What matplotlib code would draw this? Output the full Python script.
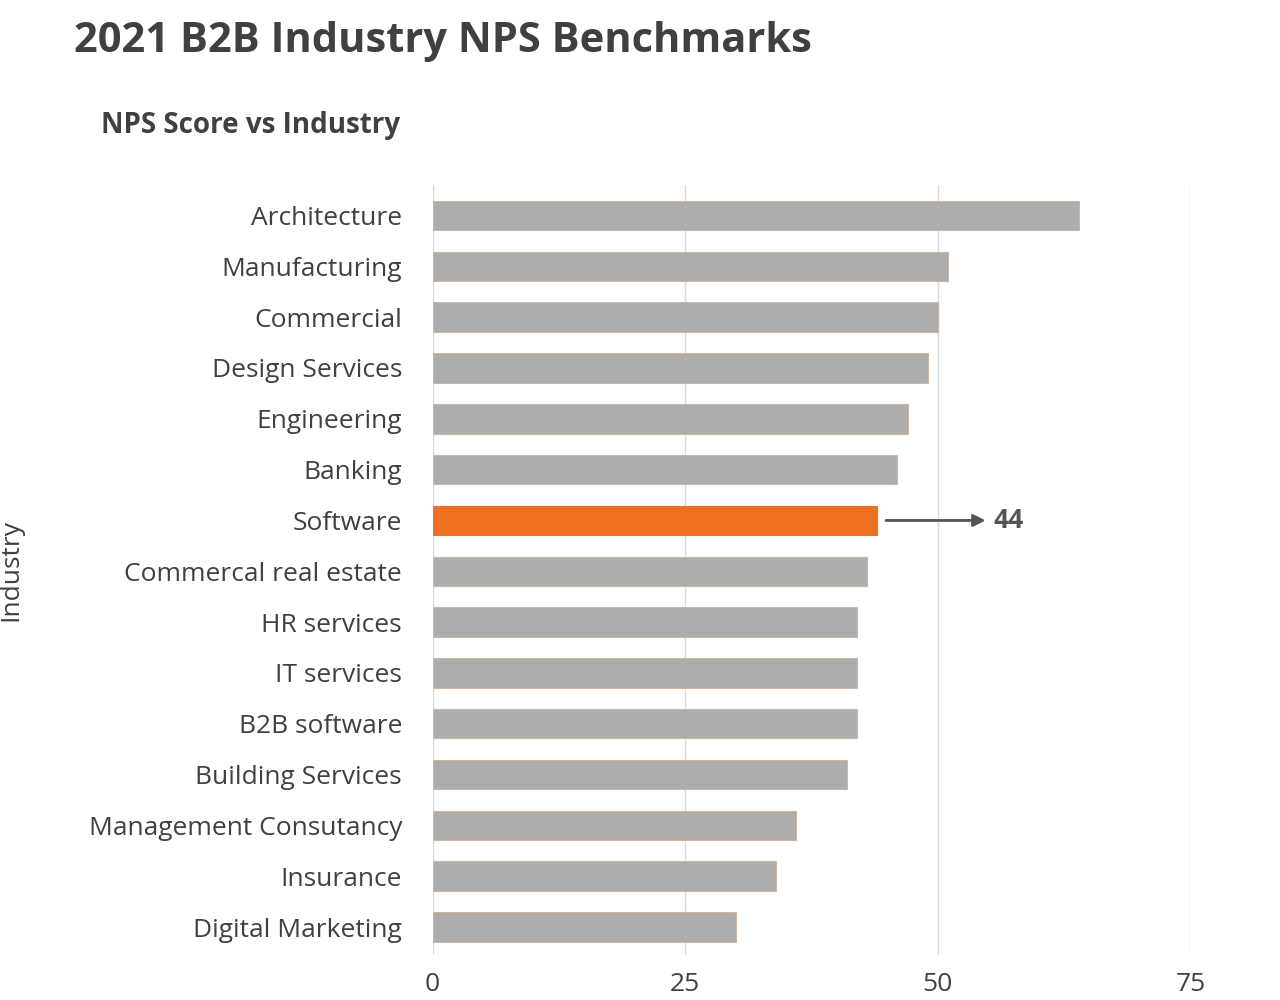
import matplotlib
matplotlib.use("Agg")
import matplotlib.pyplot as plt

industries = ["Architecture", "Manufacturing", "Commercial", "Design Services", "Engineering",
              "Banking", "Software", "Commercal real estate", "HR services", "IT services",
              "B2B software", "Building Services", "Management Consutancy", "Insurance",
              "Digital Marketing"]
nps = [64, 51, 50, 49, 47, 46, 44, 43, 42, 42, 42, 41, 36, 34, 30]
highlight = "Software"
x_ticks = [0, 25, 50, 75]

plt.rcParams['font.family'] = ['Open Sans', 'DejaVu Sans']

fig = plt.figure(figsize=(12.8, 10), dpi=100)
ax = fig.add_axes([0.338, 0.045, 0.592, 0.77])

ypos = list(range(len(industries)))
colors = ["#f07022" if n == highlight else "#adadad" for n in industries]
edges = ["#f07022" if n == highlight else "#c9b8a8" for n in industries]
ax.barh(ypos, nps, height=0.58, color=colors, edgecolor=edges, linewidth=0.8, zorder=3)
ax.set_yticks(ypos)
ax.set_yticklabels(industries, fontsize=19, color="#404040")
ax.invert_yaxis()
ax.set_ylim(len(industries) - 0.45, -0.6)
ax.set_xlim(0, 75)
ax.set_xticks(x_ticks)
ax.set_xticklabels([str(t) for t in x_ticks], fontsize=19, color="#404040")
ax.tick_params(length=0, pad=22)
ax.tick_params(axis='x', pad=12)
ax.grid(axis='x', color="#d9d9d9", linewidth=1, zorder=0)
for s in ax.spines.values():
    s.set_visible(False)
ax.set_ylabel("Industry", fontsize=19, color="#404040", labelpad=0)
ax.yaxis.set_label_coords(-0.54, 0.5)

i = industries.index(highlight)
v = nps[i]
ax.annotate("", xy=(v + 11, i), xytext=(v + 0.6, i),
            arrowprops=dict(arrowstyle="-|>", color="#555555", lw=2, mutation_scale=18))
ax.text(v + 11.5, i, str(v), va='center', ha='left', fontsize=19, fontweight='bold', color="#555555")

fig.text(0.058, 0.948, "2021 B2B Industry NPS Benchmarks", fontsize=30, fontweight='bold', color="#404040")
fig.text(0.079, 0.867, "NPS Score vs Industry", fontsize=20, fontweight='bold', color="#404040")

fig.savefig("out.png", dpi=100, facecolor="white")
